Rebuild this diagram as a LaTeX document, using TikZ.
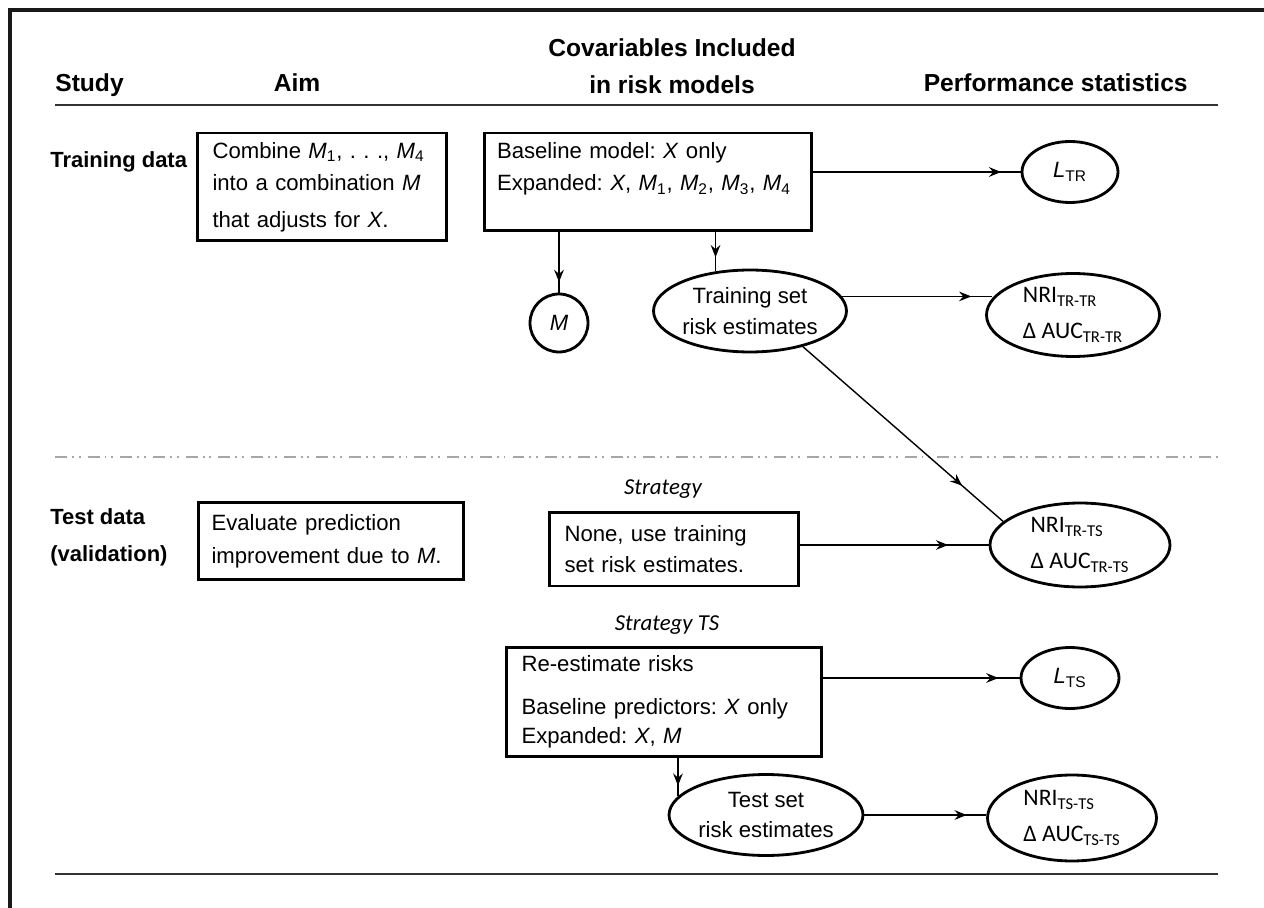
\documentclass[tikz,border=0pt]{standalone}
\usepackage{fontspec}
\setmainfont{Liberation Sans}
\newfontfamily\calfont{Carlito}
\usetikzlibrary{arrows.meta, shapes.geometric, decorations.markings}
\frenchspacing

\newcommand{\Msub}[1]{\textit{M}\textsubscript{#1}}

\begin{document}
\begin{tikzpicture}[x=0.02cm, y=-0.02cm,
    every node/.style={font=\fontsize{12.6}{17.6}\selectfont},
    head/.style={font=\fontsize{14}{21}\selectfont\bfseries, inner sep=0pt},
    side/.style={font=\fontsize{12.5}{21}\selectfont\bfseries, anchor=west, align=left, inner sep=0pt},
    box/.style={draw, line width=1.7pt, align=left, inner xsep=0.3cm, inner ysep=0pt},
    oval/.style={draw, line width=1.6pt, ellipse, inner sep=-3pt, align=center},
    stat/.style={oval, align=left, font=\calfont\fontsize{13.5}{20.4}\selectfont},
    strat/.style={font=\calfont\itshape\fontsize{13}{16}\selectfont},
    rule/.style={line width=1.1pt, black!80},
    arr/.style={line width=0.8pt, postaction={decorate},
        decoration={markings, mark=at position -#1 with {\arrow{Stealth[length=7pt,width=5.5pt,inset=2.4pt]}}}},
    arr/.default=10pt]

    \useasboundingbox (0,0) rectangle (1264,908);
    % frame
    \draw[line width=2.3pt, black!90] (1264,10) -- (10,10) -- (10,908);

    % column heads
    \node[head, anchor=base west] (hstudy) at (55,92) {Study};
    \node[head, anchor=base] (haim) at (297,92) {Aim};
    \node[head, anchor=north, align=center] (hcov) at (672,38) {Covariables Included\\in risk models};
    \node[head, anchor=base east] (hperf) at (1188,92) {Performance statistics};
    \draw[rule] (55,105) -- (1218,105);

    % training data
    \node[side] (train) at (50,162) {Training data};
    \node[box, text width=4.38cm, minimum height=2.16cm] (aim1) at (322,187)
        {Combine \Msub{1}, . . ., \Msub{4}\\[1pt]into a combination \textit{M}\\[3pt]that adjusts for \textit{X}.};
    \node[box, inner xsep=0.26cm, text width=6.04cm, minimum height=1.96cm] (cov) at (648,182)
        {Baseline model: \textit{X} only\\[1pt]Expanded: \textit{X}, \Msub{1}, \Msub{2}, \Msub{3}, \Msub{4}\\ \mbox{}};
    \node[oval, minimum width=1.92cm, minimum height=1.22cm] (ltr) at (1070,172) {\textit{L}\textsubscript{TR}};
    \node[draw, circle, line width=1.6pt, minimum size=1.16cm, inner sep=0pt] (m) at (559,323) {\textit{M}};
    \node[oval, minimum width=3.86cm, minimum height=1.64cm] (trs) at (750,311) {Training set\\risk estimates};
    \node[stat, minimum width=3.46cm, minimum height=1.66cm] (nritr) at (1073,315)
        {NRI\textsubscript{TR-TR}\\Δ AUC\textsubscript{TR-TR}};

    \draw[arr=11pt] (cov.east |- ltr.west) -- (ltr.west);
    \draw[arr=6pt] (cov.south -| m.north) -- (m.north);
    \draw[arr=8pt] (trs.131 |- cov.south) -- (trs.131);
    \draw[arr=12pt] (trs.9) -- (trs.9 -| nritr.168);

    % test data
    \draw[gray!70, line width=1.2pt, dash pattern=on 6.8pt off 2.8pt on 1.1pt off 2.8pt on 1.1pt off 4pt] (55,457) -- (1218,457);
    \node[side] (test) at (50,537) {Test data\\(validation)};
    \node[box, inner xsep=0.26cm, text width=4.78cm, minimum height=1.54cm] (aim2) at (331,541)
        {Evaluate prediction\\[1pt]improvement due to \textit{M}.};
    \node[strat] (strat) at (663,489) {Strategy};
    \node[box, text width=4.38cm, minimum height=1.48cm] (none) at (674,549)
        {None, use training\\set risk estimates.};
    \node[stat, minimum width=3.6cm, minimum height=1.68cm] (nrits) at (1080,545)
        {NRI\textsubscript{TR-TS}\\Δ AUC\textsubscript{TR-TS}};
    \node[strat] (strats) at (667,625) {Strategy TS};
    \node[box, text width=5.7cm, minimum height=2.2cm] (rees) at (664,702)
        {Re-estimate risks\\[6.8pt]Baseline predictors: \textit{X} only\\[-1.2pt]Expanded: \textit{X}, \textit{M}};
    \node[oval, minimum width=1.96cm, minimum height=1.22cm] (lts) at (1070,678) {\textit{L}\textsubscript{TS}};
    \node[oval, minimum width=3.88cm, minimum height=1.62cm] (tse) at (766,815) {Test set\\risk estimates};
    \node[stat, minimum width=3.38cm, minimum height=1.72cm] (nritsts) at (1072,818)
        {NRI\textsubscript{TS-TS}\\Δ AUC\textsubscript{TS-TS}};
    \draw[rule] (55,874) -- (1218,874);

    \draw[arr=31pt] (trs.326) -- (nrits.163);
    \draw[arr=23pt] (none.east |- nrits.west) -- (nrits.west);
    \draw[arr=12pt] (rees.east |- lts.west) -- (lts.west);
    \draw[arr=6pt] (tse.168 |- rees.south) -- (tse.168);
    \draw[arr=11pt] (tse.east) -- (tse.east -| nritsts.west);

\end{tikzpicture}
\end{document}
